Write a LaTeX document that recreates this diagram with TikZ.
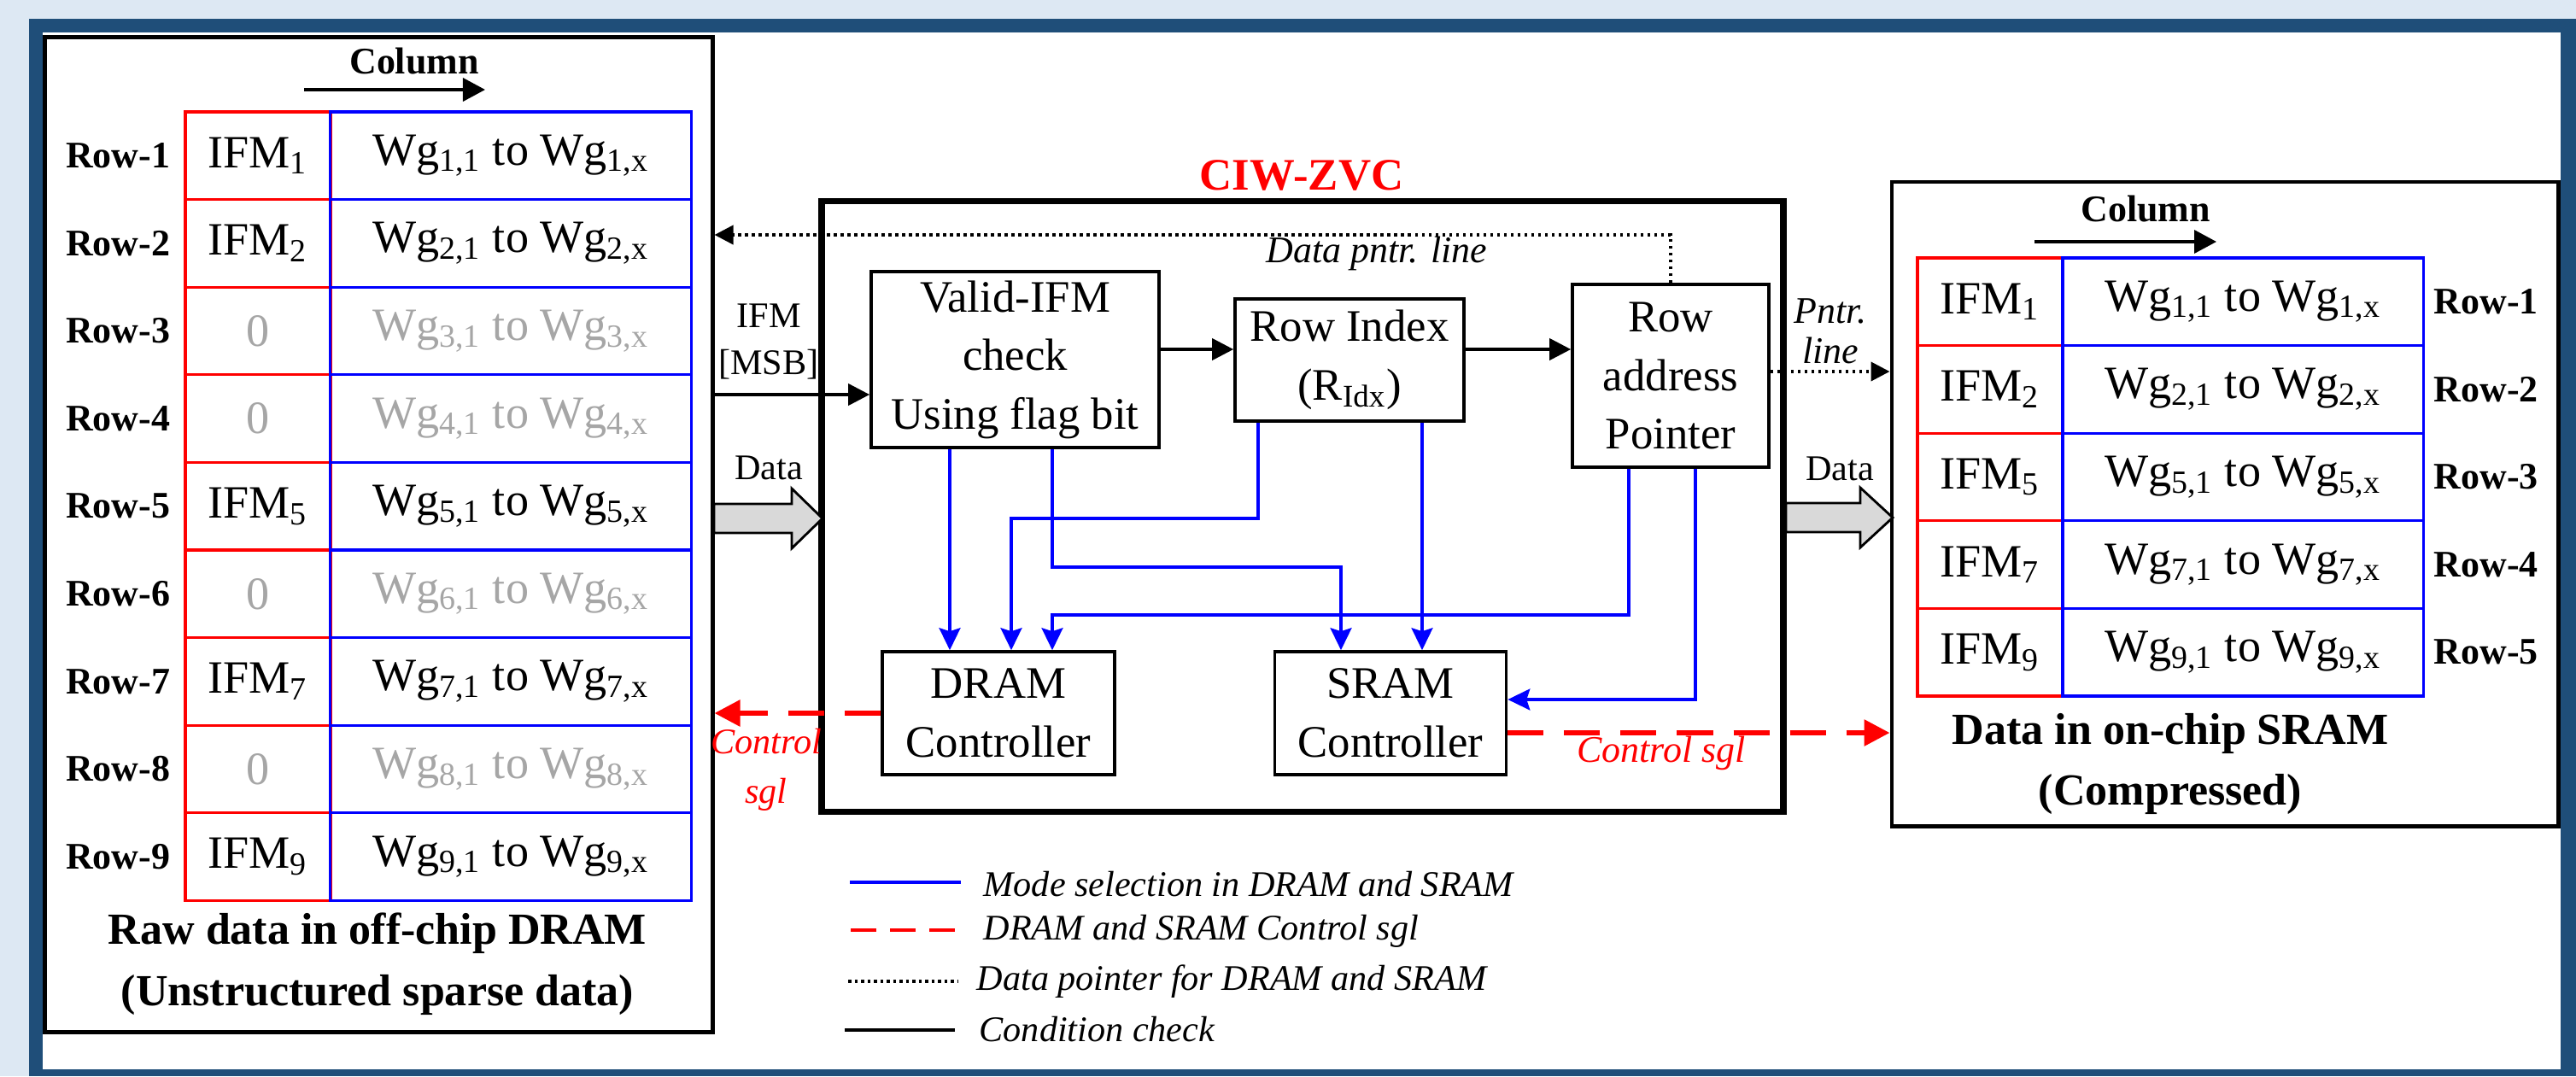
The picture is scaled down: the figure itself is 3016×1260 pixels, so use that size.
\documentclass[tikz,border=0pt]{standalone}
\usepackage{fontspec}
\setmainfont{Liberation Serif}
\usetikzlibrary{arrows.meta, calc}
\definecolor{frameblue}{HTML}{1F4E79}
\definecolor{pagebg}{HTML}{DDE8F3}
\definecolor{zerogray}{HTML}{A6A6A6}
\definecolor{arrowgray}{HTML}{D9D9D9}
\newcommand{\wgrow}[1]{Wg\textsubscript{#1,1}\ to\ Wg\textsubscript{#1,x}}

\begin{document}
\begin{tikzpicture}[x=0.01cm, y=-0.01cm,
  cell/.style={minimum height=1.026cm, inner sep=0pt, line width=0.9pt, font=\fontsize{15.4}{18}\selectfont},
  ifmcell/.style={cell, draw=red, minimum width=1.7cm},
  wgcell/.style={cell, draw=blue, minimum width=4.22cm},
  rowlab/.style={inner sep=0pt, font=\fontsize{12.5}{15}\selectfont\bfseries},
  block/.style={draw, line width=1pt, align=center, inner sep=0pt, font=\fontsize{15}{19.5}\selectfont},
  lbl/.style={align=center, inner sep=0pt, font=\fontsize{12}{15.5}\selectfont},
  condline/.style={line width=1.1pt, -{Triangle[length=0.25cm, width=0.25cm]}},
  modeline/.style={blue, line width=0.9pt, -{Stealth[length=0.26cm, width=0.25cm, inset=0.04cm]}},
  ctrlline/.style={red, line width=1.7pt, dash pattern=on 0.42cm off 0.24cm, -{Triangle[length=0.3cm, width=0.3cm]}},
  pntrline/.style={line width=1.1pt, dash pattern=on 0.035cm off 0.045cm, -{Triangle[length=0.22cm, width=0.22cm]}},
  datarrow/.style={draw, line width=0.8pt, fill=arrowgray}]
\useasboundingbox (0,0) rectangle (3016,1260);
% --- frame ---
\fill[pagebg] (0,0) rectangle (3016,1260);
\fill[frameblue] (34,22) rectangle (3016,1260);
\fill[white] (50,38) rectangle (2998,1252);

% --- off-chip DRAM (left) ---
\node[draw, line width=1.3pt, minimum width=7.81cm, minimum height=11.64cm] (offchip) at (443.5,626) {};
\node[rowlab] (dcol) at (485,72) {Column};
\draw[line width=1pt, -{Triangle[length=0.26cm, width=0.27cm]}] (356,105) -- (568,105);
\foreach \n/\z in {1/0,2/0,3/1,4/1,5/0,6/1,7/0,8/1,9/0} {
  \pgfmathsetmacro\yc{131+(\n-0.5)*102.6}
  \ifnum\z=1 \def\tc{zerogray}\def\ifmtxt{0}\else\def\tc{black}\def\ifmtxt{IFM\textsubscript{\n}}\fi
  \node[ifmcell, text=\tc] (difm\n) at (302,\yc) {\ifmtxt};
  \node[wgcell, text=\tc] (dwg\n) at (598,\yc) {\wgrow{\n}};
  \node[rowlab, anchor=east] (drow\n) at (200,\yc) {Row-\n};
}
\node[align=center, font=\fontsize{14.8}{20.5}\selectfont\bfseries] (dcap) at (442,1129) {Raw data in off-chip DRAM\\(Unstructured sparse data)};

% --- on-chip SRAM (right) ---
\node[draw, line width=1.3pt, minimum width=7.80cm, minimum height=7.54cm] (onchip) at (2605,590) {};
\node[rowlab] (scol) at (2512,245) {Column};
\draw[line width=1pt, -{Triangle[length=0.26cm, width=0.27cm]}] (2382,283) -- (2595,283);
\foreach \n/\k in {1/1,2/2,3/5,4/7,5/9} {
  \pgfmathsetmacro\yc{302+(\n-0.5)*102.6}
  \node[ifmcell] (sifm\n) at (2330,\yc) {IFM\textsubscript{\k}};
  \node[wgcell] (swg\n) at (2626,\yc) {\wgrow{\k}};
  \node[rowlab, anchor=west] (srow\n) at (2849,\yc) {Row-\n};
}
\node[align=center, font=\fontsize{14.8}{20.2}\selectfont\bfseries] (scap) at (2541,894) {Data in on-chip SRAM\\(Compressed)};

% --- CIW-ZVC ---
\node[draw, line width=2.1pt, minimum width=11.25cm, minimum height=7.14cm] (ciwzvc) at (1525,593) {};
\node[red, font=\fontsize{15}{18}\selectfont\bfseries] (title) at (1524,205) {CIW-ZVC};
\node[block, minimum width=3.37cm, minimum height=2.06cm] (valid) at (1188.5,421) {Valid-IFM\\check\\Using flag bit};
\node[block, minimum width=2.68cm, minimum height=1.43cm] (rowidx) at (1580,421.5) {Row Index\\(R\textsubscript{Idx})};
\node[block, minimum width=2.30cm, minimum height=2.14cm] (rowaddr) at (1956,440) {Row\\address\\Pointer};
\node[block, minimum width=2.72cm, minimum height=1.44cm] (dram) at (1169,835) {DRAM\\Controller};
\node[block, minimum width=2.71cm, minimum height=1.44cm] (sram) at (1628,835) {SRAM\\Controller};

% levels for the connectors
\coordinate (yifm) at (0,462);
\coordinate (ychk) at (0,409);
\coordinate (ydp) at (0,275);
\coordinate (ypl) at (0,435);
\coordinate (yc2) at (0,858);
\coordinate (m1) at (1112,0);
\coordinate (m2a) at (1473,0);
\coordinate (m2b) at (1184,607);
\coordinate (m3a) at (1232,0);
\coordinate (m3b) at (1570,664);
\coordinate (m4) at (1665,0);
\coordinate (m5a) at (1907,0);
\coordinate (m5b) at (1232,720);
\coordinate (m6a) at (1985,0);
\coordinate (m6b) at (0,819);

% condition check
\draw[condline] (offchip.east |- yifm) -- (valid.west |- yifm);
\draw[condline] (valid.east |- ychk) -- (rowidx.west |- ychk);
\draw[condline] (rowidx.east |- ychk) -- (rowaddr.west |- ychk);
% data pointer
\draw[pntrline] (rowaddr.north) |- (offchip.east |- ydp);
\draw[pntrline] (rowaddr.east |- ypl) -- (onchip.west |- ypl);
% mode selection
\draw[modeline] (valid.south -| m1) -- (dram.north -| m1);
\draw[modeline] (rowidx.south -| m2a) |- (m2b) -- (dram.north -| m2b);
\draw[modeline] (valid.south -| m3a) |- (m3b) -- (sram.north -| m3b);
\draw[modeline] (rowidx.south -| m4) -- (sram.north -| m4);
\draw[modeline] (rowaddr.south -| m5a) |- (m5b) -- (dram.north -| m5b);
\draw[modeline] (rowaddr.south -| m6a) |- (sram.east |- m6b);
% control signals
\draw[ctrlline] (dram.west) -- (offchip.east |- dram.west);
\draw[ctrlline] (sram.east |- yc2) -- (onchip.west |- yc2);
% data arrows
\draw[datarrow] (836,590) -- ++(91,0) -- ++(0,-18) -- ++(36,35) -- ++(-36,35) -- ++(0,-18) -- ++(-91,0) -- cycle;
\draw[datarrow] (2091,589) -- ++(87,0) -- ++(0,-18) -- ++(38,35) -- ++(-38,35) -- ++(0,-18) -- ++(-87,0) -- cycle;

% labels
\node[lbl] (ifmlbl) at (900,400) {IFM\\{[MSB]}};
\node[lbl] (dinlbl) at (900,548) {Data};
\node[lbl] (doutlbl) at (2154,549) {Data};
\node[lbl, font=\fontsize{12.5}{15}\selectfont\itshape] (dplbl) at (1612,297) {Data pntr. line};
\node[lbl, font=\fontsize{12.5}{13.5}\selectfont\itshape] (pllbl) at (2143,388) {Pntr.\\line};
\node[lbl, red, font=\fontsize{12}{16.5}\selectfont\itshape] (c1lbl) at (897,901) {Control\\sgl};
\node[lbl, red, font=\fontsize{12.5}{15}\selectfont\itshape] (c2lbl) at (1945,882) {Control sgl};

% --- legend ---
\begin{scope}[every node/.style={anchor=west, inner sep=0pt, font=\fontsize{12}{14}\selectfont\itshape}]
\node (lg1) at (1151,1035) {Mode selection in DRAM and SRAM};
\node (lg2) at (1151,1090) {DRAM and SRAM Control sgl};
\node (lg3) at (1143,1149) {Data pointer for DRAM and SRAM};
\node (lg4) at (1146,1205) {Condition check};
\end{scope}
\draw[blue, line width=1pt] ($(lg1.west)+(-156,-2)$) -- ++(130,0);
\draw[red, line width=1.1pt, dash pattern=on 0.3cm off 0.16cm] ($(lg2.west)+(-155,-1)$) -- ++(122,0);
\draw[line width=1.1pt, dash pattern=on 0.035cm off 0.04cm] ($(lg3.west)+(-150,0)$) -- ++(128,0);
\draw[line width=1.2pt] ($(lg4.west)+(-157,1)$) -- ++(129,0);
\end{tikzpicture}
\end{document}
